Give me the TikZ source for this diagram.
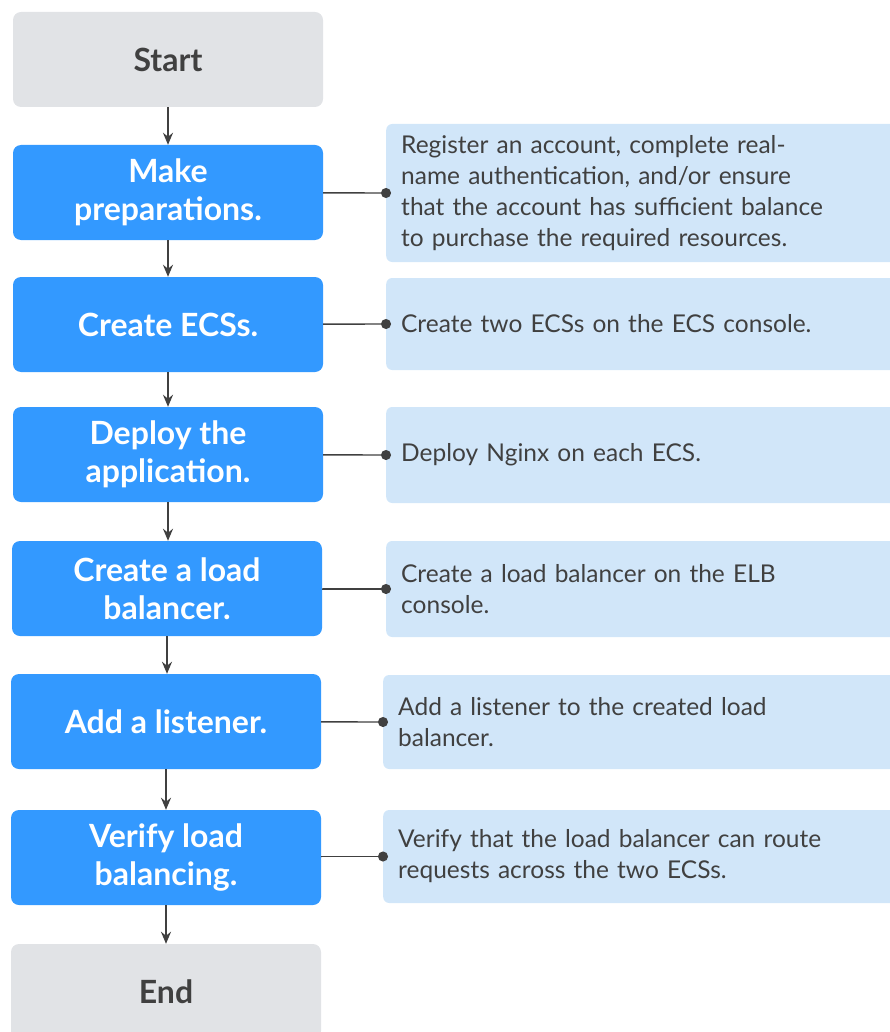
\documentclass[tikz,border=0pt]{standalone}
\usepackage{fontspec}
\setmainfont{Lato}
\usetikzlibrary{arrows.meta}
\definecolor{stepblue}{HTML}{3399FF}
\definecolor{endgray}{HTML}{E1E3E6}
\definecolor{noteblue}{HTML}{D1E6F9}
\definecolor{inkgray}{HTML}{404040}

\begin{document}
\begin{tikzpicture}[x=1pt,y=-1pt,
  stepbox/.style={fill=stepblue,rounded corners=8pt,minimum width=310pt,minimum height=95pt,
    inner sep=0pt,align=center,text=white,font=\fontsize{32}{38}\selectfont\bfseries},
  endbox/.style={stepbox,fill=endgray,text=inkgray},
  notebox/.style={fill=noteblue,rounded corners=6pt,anchor=west,minimum width=520pt,
    inner xsep=15pt,inner ysep=0pt,text width=490pt,align=left,text=inkgray,
    font=\fontsize{24.5}{31}\selectfont},
  flow/.style={draw=inkgray,line width=1.8pt,-{Stealth[length=12pt,width=10pt]}},
  link/.style={draw=inkgray,line width=1.4pt,-{Circle[length=10pt]},shorten >=-5pt}]
  \useasboundingbox (0,0) rectangle (890,1032);
  % main steps
  \node[endbox] (start) at (168,59.5) {Start};
  \node[stepbox] (prep) at (168,192.5) {Make\\preparations.};
  \node[stepbox] (ecs) at (168,324.5) {Create ECSs.};
  \node[stepbox] (app) at (168,454.5) {Deploy the\\application.};
  \node[stepbox] (elb) at (167,588.5) {Create a load\\balancer.};
  \node[stepbox] (lsn) at (166,721.5) {Add a listener.};
  \node[stepbox] (chk) at (166,857.5) {Verify load\\balancing.};
  \node[endbox] (stop) at (166,991.5) {End};
  % notes
  \node[notebox,minimum height=138pt] (n1) at (386,193) {Register an account, complete real-\\name authentication, and/or ensure\\that the account has sufficient balance\\to purchase the required resources.};
  \node[notebox,minimum height=92pt] (n2) at (386,324) {Create two ECSs on the ECS console.};
  \node[notebox,minimum height=96pt] (n3) at (386,455) {Deploy Nginx on each ECS.};
  \node[notebox,minimum height=96pt] (n4) at (386,589) {Create a load balancer on the ELB\\console.};
  \node[notebox,minimum height=94pt] (n5) at (383,722) {Add a listener to the created load\\balancer.};
  \node[notebox,minimum height=93pt] (n6) at (383,856.5) {Verify that the load balancer can route\\requests across the two ECSs.};
  % arrows
  \draw[flow] (start) -- (prep);
  \draw[flow] (prep) -- (ecs);
  \draw[flow] (ecs) -- (app);
  \draw[flow] (app.south) -- (app.south |- elb.north);
  \draw[flow] (elb.south) -- (elb.south |- lsn.north);
  \draw[flow] (lsn) -- (chk);
  \draw[flow] (chk) -- (stop);
  \draw[link] (prep) -- (n1.west);
  \draw[link] (ecs) -- (n2.west);
  \draw[link] (app) -- (n3.west);
  \draw[link] (elb) -- (elb.east |- n4.west) -- (n4.west);
  \draw[link] (lsn) -- (n5.west);
  \draw[link] (chk) -- (chk.east |- n6.west) -- (n6.west);
\end{tikzpicture}
\end{document}
